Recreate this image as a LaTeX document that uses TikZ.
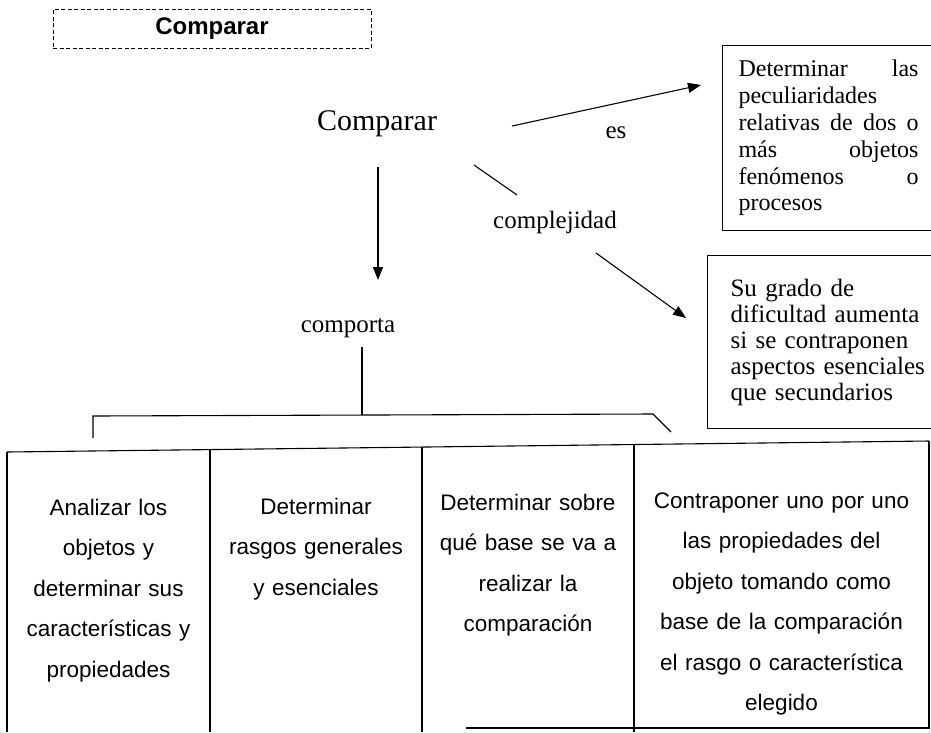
\documentclass[tikz,border=0pt]{standalone}
\usepackage{fontspec}
\setmainfont{Liberation Serif}
\newfontfamily\hdrfont{Liberation Sans}
\newfontfamily\tabfont{Liberation Sans}
\newfontfamily\boxfont{Liberation Serif}
\usetikzlibrary{arrows.meta}
\begin{document}
\begin{tikzpicture}[x=1pt,y=-1pt,
  ln/.style={line width=1.1pt},
  arr/.style={ln,-{Triangle[length=13pt,width=10pt]}},
  lbl/.style={inner sep=0pt, anchor=base, font=\fontsize{25}{30}\selectfont},
  cell/.style={inner sep=0pt, anchor=base, align=center, font=\tabfont\fontsize{22.5}{40.5}\selectfont},
  hdrbox/.style={draw, line width=0.9pt, dash pattern=on 4pt off 2.5pt, minimum width=318pt, minimum height=39pt, inner sep=0pt, font=\hdrfont\bfseries\fontsize{24}{28}\selectfont},
  sidebox/.style={draw, ln, anchor=north west, inner ysep=0pt}
]
\useasboundingbox (0,0) rectangle (931,732);
\clip (0,0) rectangle (931,732);

% header
\node[hdrbox] (hdr) at (212,28.5) {Comparar};

% central concept and labels
\node[inner sep=0pt, anchor=base, font=\fontsize{30}{36}\selectfont] (cmp) at (377,130) {Comparar};
\node[lbl] (es) at (616,138) {es};
\node[lbl] (compl) at (555,228) {complejidad};
\node[lbl] (comp) at (348,332) {comporta};

% right boxes
\node[sidebox, inner xsep=16pt, text width=180pt, minimum height=185pt, align=justify,
      font=\boxfont\fontsize{24}{26.8}\selectfont] (def) at (722,45)
  {Determinar las\linebreak peculiaridades\linebreak relativas de dos o\linebreak más objetos\linebreak fenómenos o\linebreak procesos};
\node[sidebox, inner xsep=23pt, text width=215pt, minimum height=173pt, align=left,
      font=\fontsize{25}{26}\selectfont] (dif) at (707,255)
  {Su grado de\\dificultad aumenta\\si se contraponen\\aspectos esenciales\\que secundarios};

% connector end points
\coordinate (esA) at (512,126);
\coordinate (esB) at (701,85);
\coordinate (cxA) at (474,165);
\coordinate (cxB) at (517,195);
\coordinate (cxC) at (596,253);
\coordinate (cxD) at (686,318);
\coordinate (dnA) at (378,167);
\coordinate (dnB) at (378,280);
\coordinate (vA) at (362,347);
\coordinate (vB) at (362,415);
\coordinate (brL) at (93,416);
\coordinate (brLd) at (93,438);
\coordinate (brR) at (653,414);
\coordinate (brRd) at (671,432);

\draw[arr] (esA) -- (esB);
\draw[ln] (cxA) -- (cxB);
\draw[arr] (cxC) -- (cxD);
\draw[arr] (dnA) -- (dnB);
\draw[ln] (vA) -- (vB);
\draw[ln] (brLd) -- (brL) -- (brR) -- (brRd);

% table
\coordinate (t1) at (7,452);
\coordinate (t2) at (210,449.6);
\coordinate (t3) at (422,447);
\coordinate (t4) at (634,444.5);
\coordinate (t5) at (929,441);
\draw[ln] (t1) -- (t5);
\draw[ln] (t1) -- (7,732);
\draw[ln] (t2) -- (210,732);
\draw[ln] (t3) -- (422,732);
\draw[ln] (t4) -- (634,732);
\draw[ln] (t5) -- (929,728) -- (466,728);

\node[cell, text width=195pt] (c1) at (108.5,515) {Analizar los\\objetos y\\determinar sus\\características y\\propiedades};
\node[cell, text width=205pt] (c2) at (316,514) {Determinar\\rasgos generales\\y esenciales};
\node[cell, text width=205pt] (c3) at (528,510) {Determinar sobre\\qué base se va a\\realizar la\\comparación};
\node[cell, text width=290pt] (c4) at (781.5,508) {Contraponer uno por uno\\las propiedades del\\objeto tomando como\\base de la comparación\\el rasgo o característica\\elegido};
\end{tikzpicture}
\end{document}
